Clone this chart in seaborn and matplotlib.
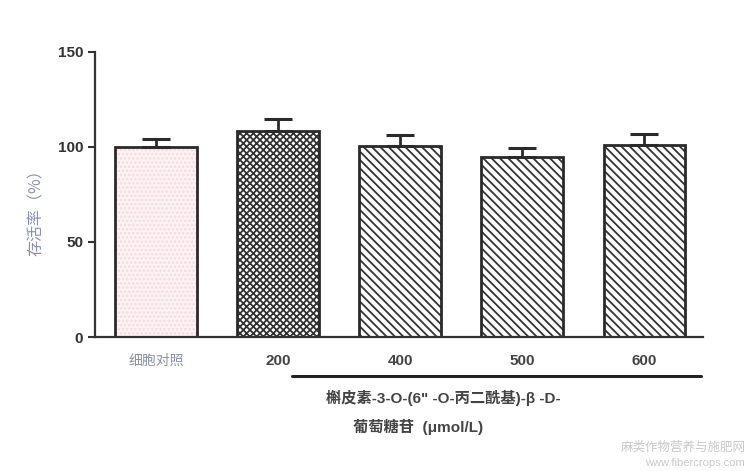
import numpy as np
import pandas as pd
import matplotlib.pyplot as plt
import matplotlib.colors as mcolors
import matplotlib.transforms as mtransforms
import seaborn as sns

groups = ['细胞对照', '200', '400', '500', '600']
viability = [100.0, 108.5, 100.5, 94.5, 101.0]
sd = [4.0, 6.0, 6.0, 5.0, 6.0]

df = pd.DataFrame({'group': groups, 'viability': viability})

sns.set_style("ticks")
plt.rcParams['font.family'] = ['Liberation Sans', 'Noto Sans CJK SC', 'DejaVu Sans']
plt.rcParams['hatch.linewidth'] = 1.3

fig = plt.figure(figsize=(7.49, 4.71), dpi=100)
ax = fig.add_axes([0.1268, 0.2845, 0.8118, 0.6051])

sns.barplot(data=df, x='group', y='viability', color='white', width=0.67,
            edgecolor='#2a2a2a', linewidth=2, ax=ax)

fills = ['#fdf3f5', 'white', 'white', 'white', 'white']
hatches = ['....', 'xxxxx', '\\\\\\\\', '\\\\\\\\', '\\\\\\\\']
hcolors = ['#f3dbe0', '#333333', '#333333', '#333333', '#333333']
for p, fc, h, hc in zip(ax.patches, fills, hatches, hcolors):
    p.set_facecolor(fc)
    p.set_edgecolor('#2a2a2a')
    p.set_hatch(h)
    p._hatch_color = mcolors.to_rgba(hc)

centers = [p.get_x() + p.get_width() / 2 for p in ax.patches]
ax.errorbar(centers, viability, yerr=[np.zeros(len(sd)), sd], fmt='none',
            ecolor='#2a2a2a', elinewidth=2, capsize=10, capthick=2.2, zorder=1)

ax.set_ylim(0, 150)
ax.set_xlim(-0.5, 4.48)
ax.set_yticks([0, 50, 100, 150])
ax.set_xlabel('')
ax.set_ylabel('存活率（%）', family=['Noto Sans CJK SC'], color='#8a90b0',
              fontsize=11.5)
ax.yaxis.set_label_coords(-0.083, 0.45)
ax.tick_params(axis='y', length=5, width=1.5, colors='#333333', labelsize=11)
ax.tick_params(axis='x', length=0, pad=12, labelsize=11, colors='#444444')
for lab in ax.get_yticklabels() + ax.get_xticklabels():
    lab.set_fontweight('bold')
ax.get_xticklabels()[0].set_color('#8a90a8')
ax.get_xticklabels()[0].set_fontweight('normal')
ax.get_xticklabels()[0].set_fontsize(10)
sns.despine(ax=ax)
for s in ['left', 'bottom']:
    ax.spines[s].set_linewidth(1.6)
    ax.spines[s].set_color('#333333')

trans = mtransforms.blended_transform_factory(ax.transData, ax.transAxes)
ax.plot([1.115, 4.46], [-0.137, -0.137], color='#222222', lw=2.2,
        transform=trans, clip_on=False)

fig.text(443 / 749, 1 - 398 / 471, '槲皮素-3-O-(6" -O-丙二酰基)-β -D-',
         ha='center', va='center', fontsize=11, color='#444444',
         family=['Liberation Sans', 'Noto Sans CJK SC'], fontweight='bold')
fig.text(418 / 749, 1 - 427 / 471, '葡萄糖苷  (μmol/L)',
         ha='center', va='center', fontsize=11, color='#444444',
         family=['Liberation Sans', 'Noto Sans CJK SC'], fontweight='bold')

fig.text(0.995, 1 - 447 / 471, '麻类作物营养与施肥网', ha='right', va='center',
         fontsize=9, color='#c8c8c8', family=['Noto Sans CJK SC'])
fig.text(0.995, 1 - 463 / 471, 'www.fibercrops.com', ha='right', va='center',
         fontsize=8, color='#c8c8c8')

fig.savefig('out.png', dpi=100)
